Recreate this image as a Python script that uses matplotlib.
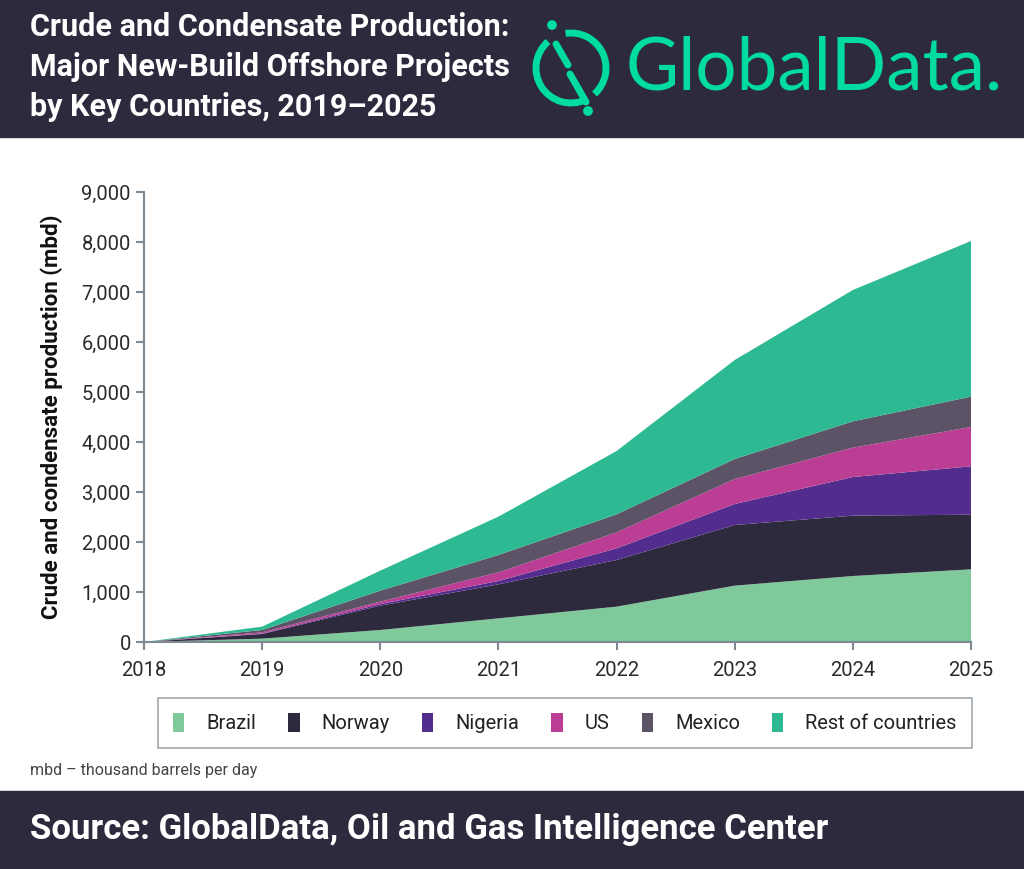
import numpy as np
import matplotlib
matplotlib.use("Agg")
import matplotlib.pyplot as plt
from matplotlib.patches import Rectangle, Arc, Circle
from matplotlib.lines import Line2D

# data (mbd)
years = [2018, 2019, 2020, 2021, 2022, 2023, 2024, 2025]
brazil = [0, 67, 240, 473, 707, 1127, 1320, 1453]
norway = [0, 93, 487, 680, 933, 1213, 1207, 1093]
nigeria = [0, 8, 33, 67, 233, 420, 773, 967]
us = [0, 25, 47, 173, 320, 500, 587, 787]
mexico = [0, 47, 220, 347, 360, 400, 526, 607]
rest = [0, 67, 400, 767, 1267, 1980, 2627, 3113]

labels = ["Brazil", "Norway", "Nigeria", "US", "Mexico", "Rest of countries"]
colors = ["#80c99a", "#2e2a3d", "#532d8e", "#bb3e94", "#5c5366", "#2db991"]

DARK = "#2e2a3e"
LOGO = "#00dca0"

plt.rcParams["font.family"] = ["Roboto", "DejaVu Sans"]


def main():
    fig = plt.figure(figsize=(10.24, 8.69), dpi=100)

    # background layer in pixel coordinates
    bg = fig.add_axes([0, 0, 1, 1], zorder=0)
    bg.set_xlim(0, 1024)
    bg.set_ylim(869, 0)
    bg.axis("off")
    bg.add_patch(Rectangle((0, 0), 1024, 137, color=DARK))
    bg.add_patch(Rectangle((0, 791), 1024, 78, color=DARK))

    # title
    title = "Crude and Condensate Production:\nMajor New-Build Offshore Projects\nby Key Countries, 2019\u20132025"
    bg.text(30, 67, title, color="white", fontsize=22, fontweight="bold",
            va="center", ha="left", linespacing=1.4)

    # logo
    cx, cy, r = 571, 68, 35
    bg.add_patch(Arc((cx, cy), 2 * r, 2 * r, theta1=-99, theta2=48,
                     color=LOGO, lw=5))
    bg.add_patch(Arc((cx, cy), 2 * r, 2 * r, theta1=66, theta2=229,
                     color=LOGO, lw=5))
    bg.add_line(Line2D([556, 568], [44, 65], color=LOGO, lw=5,
                       solid_capstyle="round"))
    bg.add_line(Line2D([570, 586], [74, 102], color=LOGO, lw=5,
                       solid_capstyle="round"))
    bg.add_patch(Circle((552, 25), 4.2, color=LOGO))
    bg.add_patch(Circle((588, 111), 4.2, color=LOGO))
    bg.text(626, 90, "GlobalData.", color=LOGO, fontsize=52.5,
            family=["Lato", "DejaVu Sans"], va="baseline", ha="left")

    # footnote and source
    bg.text(30, 771, "mbd \u2013 thousand barrels per day", color="#444444",
            fontsize=11.5, va="center", ha="left")
    bg.text(30, 830, "Source: GlobalData, Oil and Gas Intelligence Center",
            color="white", fontsize=25, fontweight="bold", va="center", ha="left")

    # main chart
    ax = fig.add_axes([144 / 1024, (869 - 642) / 869, 827 / 1024, 450 / 869], zorder=1)
    ax.patch.set_alpha(0)
    ax.stackplot(years, brazil, norway, nigeria, us, mexico, rest,
                 labels=labels, colors=colors, linewidth=0)
    ax.set_xlim(2018, 2025)
    ax.set_ylim(0, 9000)
    ax.set_xticks(years)
    ax.set_yticks(np.arange(0, 9001, 1000))
    ax.yaxis.set_major_formatter(matplotlib.ticker.StrMethodFormatter("{x:,.0f}"))
    for s in ["top", "right"]:
        ax.spines[s].set_visible(False)
    for s in ["left", "bottom"]:
        ax.spines[s].set_color("#7d8a94")
        ax.spines[s].set_linewidth(1.5)
    ax.tick_params(colors="#7d8a94", width=1.5, length=6, labelsize=14.5,
                   labelcolor="#2a2a2a")
    ax.tick_params(axis="x", pad=8)
    ax.set_ylabel("Crude and condensate production (mbd)", fontsize=16,
                  fontweight="bold", color="#111111", labelpad=13)

    leg = ax.legend(loc="center", bbox_to_anchor=(565 / 1024, 1 - 723 / 869),
                    bbox_transform=fig.transFigure, ncol=6, frameon=True,
                    fancybox=False, handlelength=0.55, handleheight=1.1,
                    handletextpad=1.1, columnspacing=1.6, borderpad=0.75,
                    borderaxespad=0, prop={"size": 14.5},
                    labelcolor="#222222")
    leg.get_frame().set_edgecolor("#8a959d")
    leg.get_frame().set_linewidth(1.2)

    fig.savefig("out.png", dpi=100)


if __name__ == "__main__":
    main()
